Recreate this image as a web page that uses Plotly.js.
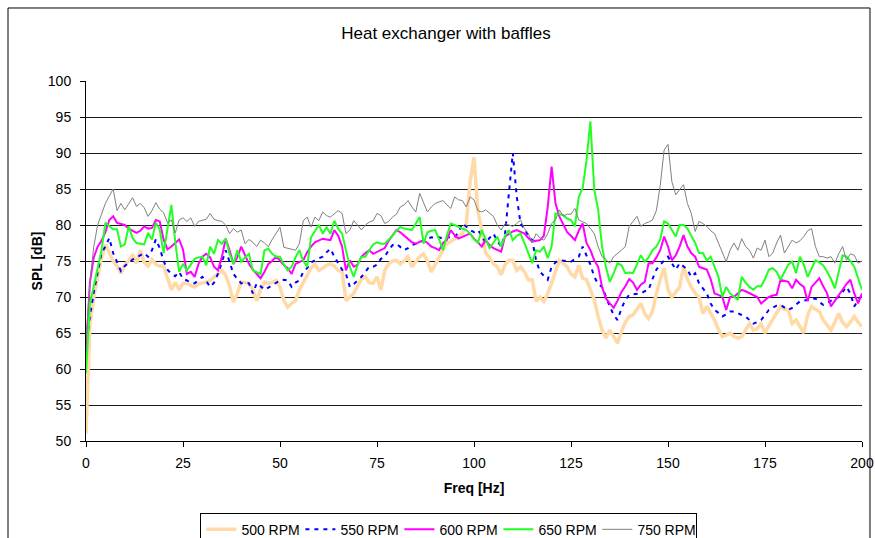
<!DOCTYPE html>
<html>
<head>
<meta charset="utf-8">
<script src="https://cdn.plot.ly/plotly-3.0.1.min.js"></script>
<style>html,body{margin:0;padding:0;background:#fff;overflow:hidden;}#chart{width:875px;height:538px;}</style>
</head>
<body>
<div id="chart"></div>
<script>
// Frequency axis, 1 Hz steps 0..200
var freq = [];
for (var i = 0; i <= 200; i++) freq.push(i);

var seriesNames = ["500 RPM", "550 RPM", "600 RPM", "650 RPM", "750 RPM"];

var rpm500 = [
51,66,70,72.5,75.5,77.3,76,75,74.3,73.3,
74.5,75,75.9,74.7,76.5,74.8,74.3,75.2,74.5,74.3,
74.3,72.5,71,72,71,71.9,71.9,71.6,71.4,71.8,
71.9,72.1,72.3,72.8,73.2,73.7,73,71.5,69.3,70.5,
72.1,72,71.9,71,69.5,71,72.1,71.9,72,72.3,
71.4,69.5,68.6,69.1,69.5,71,72,72.8,74,74.6,
73.7,74,74.4,74.6,74.3,73.7,73.5,69.5,70,70.5,
71.5,72.5,72.8,72,71.9,72.8,71,73.7,74.6,75,
75.1,74.6,75,75.6,74.2,75,75.6,76,75,73.5,
74.6,75.5,76.5,77.4,77.7,78.1,78.4,78.8,80.2,86,
89.4,82,79.3,76.1,75.5,74.6,74.2,73.1,74.5,75.1,
75.1,73.7,74.2,73.5,72.4,72.4,69.4,70,69.4,70.5,
71.9,73.7,75.1,74.7,74.2,73.2,72.8,74.4,72.6,72.4,
71,69.6,67.3,65.4,64.3,65.4,64.5,63.6,65.2,66.5,
67.3,67.5,68.3,69.1,67.7,67,68,70.5,72.4,74,
71,70,70.7,71.4,74.2,72.5,71.4,70.5,70,67.7,
68.7,67.8,66.8,65.5,64.5,64.7,65,64.5,64.3,64.5,
65.5,66.3,65.4,65.6,66.3,65,66,66.8,67.8,68.7,
68.3,68.2,66.3,66.8,66,65,67.5,68.7,68.3,68,
66.8,66,65.4,66.5,67.7,66.5,65.9,66.5,67.3,66.5,
65.9
];

var rpm550 = [
63,67.3,70.6,73.5,76.1,77,78.2,76.1,74.8,73.6,
74.3,74.8,75.2,75.5,75.8,76.1,75.6,76.5,78,76.8,
75,73.8,73.2,72.9,73.5,72.5,72.3,72,71.9,72.4,
72.8,72.2,71.4,72,73.2,74.8,76.5,74.9,73.2,72.5,
71.9,72,71.9,70.5,71.9,71.5,71,71.3,71.6,71.9,
72.3,72.4,72.3,71.4,72,72.3,73.5,74,74.8,75.1,
75.4,75.6,76.2,76.7,75.6,74.6,73.8,73.2,71.4,71.8,
72.3,72.8,73.5,74.2,74.2,74.5,75.3,75.6,76.5,77.2,
77.4,77,76.5,76.8,77.2,77.4,77.6,77.8,78,78.3,
78.2,78.3,78.1,78.4,78.2,78.3,79,80.2,79.8,79.3,
79,79.3,78.5,77.5,78.2,78.8,77.8,77,78.8,85,
90,84,80.2,79.5,78.5,77.9,75.1,73.5,73,72.4,
74.2,74.8,75.1,75,74.9,74.9,75.3,75.6,77,75.8,
74.5,72.8,71.8,71.4,70,68.7,67.5,66.8,68.4,69.6,
70.3,70.4,70.5,70.5,70.8,71,72.5,73.8,74.5,75.1,
75.6,74.7,73.8,74.7,74.2,73.8,72.8,73.3,71.9,71.2,
70.5,69.1,68.2,67.8,67.3,67.6,68,68,67.7,67.5,
67.3,66.8,66.3,66.5,66.8,67.5,68.2,68.5,68.8,68.9,
68.5,68.2,68.5,69,69.4,69.5,69.6,69.7,69.8,69.3,
68.9,69.2,69.5,69.8,70,70.7,71.4,70.5,68.7,69.5,
70.3
];

var rpm600 = [
62,72,75.5,77,77.8,79,80.7,81.2,80.3,80.2,
80,79.5,79.2,78.9,79.2,79.8,79.5,79.6,80.7,80.5,
78,76.6,77,77.5,78,76.6,73.2,73.5,72.8,74.6,
75.6,76,75.5,74.2,73.7,75.5,78.1,76.5,74.6,75.5,
77,75.8,74.6,73.8,73.2,72.6,73.5,74.6,75,75.6,
75.1,74.4,74,73.2,74.6,74.8,75.1,76.2,77,77.6,
77.9,78.1,78,77.9,79.3,78.5,77,73.7,75.1,74.2,
74.5,75.6,76.1,76.5,76,76.3,76.5,76.8,77.8,78.5,
79.3,79,78.5,78.1,77.6,77.4,77.6,77.9,77.5,77,
76.8,76.5,77.5,77.9,79.3,78.6,78.1,78.4,78.6,78.8,
78.1,77.6,77,77.9,77.2,76.8,76.5,76.3,78.4,78.8,
79.1,79.3,79,78.8,78.2,77.7,77.8,77.9,78.5,82.5,
88.1,83,81.2,80,79,78.5,77.9,79.2,80.2,77.5,
76.5,75.1,74.2,71.4,69.8,69.1,68.5,69.5,70.7,71.5,
72.5,72,71,71.7,72.1,74.7,74.7,75.5,76.5,78.4,
77,75.1,75.8,77,78.6,77,76.1,75.6,74.2,74,
73.8,72.5,70.5,70.3,70,68.2,70,70,70.5,71,
70.8,70.5,70.2,70,69.1,69.5,70,70.2,70.3,72.4,
72.2,72.1,71.2,72.4,71.8,71.4,69.4,71.4,72,72.6,
71.5,70.5,68.7,69.5,70.3,71,71.8,72.4,70.5,69.1,
70.5
];

var rpm650 = [
59.4,69,71.5,74,76.5,80.3,79.8,79.4,79.4,77,
77.3,79.8,78.2,77.5,77.4,77.3,78.9,78,80.3,79.4,
76.1,79.4,82.8,77.7,73.5,74.6,73.7,74.5,75.3,75.5,
75.6,74.4,77,76,77.9,77.4,78.1,76,74.6,76.5,
74.9,75.5,76,73.7,73.5,73.2,76.5,76.7,76,75.6,
75.6,74.5,73.7,74.2,75.5,76.5,75,74.2,78.3,79.2,
80,78.8,79.7,78.8,80.6,79.5,78.8,76.5,74.2,72.8,
74.5,75.6,75.6,76.5,77.3,77.6,77.4,77.4,77.9,78.5,
79.2,79.7,79.5,79.4,79.3,80.2,81.1,77.4,79,79.2,
79.3,78,76.5,78.5,80.2,80,79.7,79.5,79.3,78.8,
78,77.5,79.3,78,76.8,77.5,78.4,77,78.5,79.3,
77.9,78.5,78.8,77.5,76.1,74.7,76.5,76.3,77,75.4,
77,81.6,81.5,81.4,80.9,80.7,79.8,83.9,85.1,89,
94.4,84.9,82.1,77,74.2,72.1,73.3,74.7,74.4,73.3,
73.4,73.3,74.5,75.8,74.9,75.5,76.5,77,78,80.5,
80.2,79.3,78.4,80,80,79.5,78.5,77.5,76.1,76.1,
75.1,75.6,74.2,72.8,70,71.4,70.5,70,69.6,72.8,
72,71.4,71,71.5,71.5,72.5,73.8,74,73.5,72.4,
73.5,74.5,74.9,73.3,75.6,74.5,72.8,74,75.1,74.8,
74.4,73.5,72.5,71.2,73.3,75.8,75.6,75,74.2,72.5,
71
];

var rpm750 = [
64,72,77,80,81.5,83,84,85,82,83,
82.1,83,83.8,82.6,83,82.4,81.2,82,83.1,82.2,
81.7,80.3,80.7,78.9,80.7,81,80.5,81,79.8,80.5,
80.6,80.8,81.6,80.8,80.6,80.5,80,78.8,79.5,79,
79.3,77.4,78,77.6,77,77.9,77.5,77,78,78.8,
79.7,76.9,76.8,76.7,76.5,77.4,80.6,81.1,79.7,81.1,
80.6,81.8,81.3,81.1,81.5,82,81.6,78.8,79.3,80.6,
80,79.3,80,80.4,80.6,81.6,81.3,80.2,80.5,81.1,
81.5,82.5,82.8,83.4,82.5,81.8,84.4,83,81.8,82.5,
83,83.2,83.4,82.8,82.3,83.9,83.5,83.4,82.5,83.9,
83.5,82,81.8,82.1,81.6,81.2,80,79.3,80.2,80,
79.8,80.2,80.7,79.5,78.8,77.5,78.8,78.2,77.9,78.8,
80.2,80.7,82.1,81.2,81.5,81.5,82.3,80.7,80.5,80.2,
79.5,78.8,77,75.6,75.2,74.7,75.6,76,76.5,77,
79.8,80.5,81.2,79.8,80.2,80.4,80.7,82,85.5,90.4,
91.2,86,84.2,84.9,85.6,83,81.6,79.1,80.5,80.2,
79.8,79.2,78.8,77.5,76.2,74.9,76.5,77.5,76.5,78.1,
77,76.5,75.4,76.8,76.5,77.9,75.6,76.1,77.5,78.6,
76.1,77,77.9,77.5,77.8,78.4,79.2,79.5,77,75.6,
75.6,75.4,75.6,74.7,76,77,75.1,76,75.8,74.7,
75
];

var xTickVals = [0, 25, 50, 75, 100, 125, 150, 175, 200];
var yTickVals = [50, 55, 60, 65, 70, 75, 80, 85, 90, 95, 100];

var seriesData = [rpm500, rpm550, rpm600, rpm650, rpm750];
var seriesStyle = [
  {color: "#FFD9A6", width: 3.5, dash: "solid"},
  {color: "#0000FF", width: 2, dash: "4px,5px"},
  {color: "#FF00FF", width: 2, dash: "solid"},
  {color: "#22FF22", width: 2, dash: "solid"},
  {color: "#808080", width: 1, dash: "solid"}
];

var traces = seriesData.map(function (d, k) {
  return {
    x: freq, y: d, name: seriesNames[k], type: "scatter", mode: "lines",
    line: seriesStyle[k], hoverinfo: "x+y+name"
  };
});

var F = "Arial, 'Liberation Sans', sans-serif";
var layout = {
  width: 875, height: 538,
  paper_bgcolor: "#ffffff", plot_bgcolor: "#ffffff",
  margin: {l: 86, r: 13, t: 81, b: 97, pad: 0, autoexpand: false},
  font: {family: F, size: 14, color: "#000"},
  title: {text: "Heat exchanger with baffles", font: {family: F, size: 17, color: "#000"},
          x: 0.5097, xref: "container", xanchor: "center", y: 0.938, yref: "container", yanchor: "middle"},
  xaxis: {
    range: [0, 200], tickvals: xTickVals, ticktext: xTickVals.map(String),
    showgrid: false, zeroline: false, showline: true, linecolor: "#000", linewidth: 1,
    ticks: "outside", ticklen: 5, tickcolor: "#000", tickfont: {family: F, size: 14},
    ticklabelstandoff: 4,
    title: {text: "<b>Freq [Hz]</b>", font: {family: F, size: 14}, standoff: 13}
  },
  yaxis: {
    range: [50, 100], tickvals: yTickVals, ticktext: yTickVals.map(String),
    showgrid: true, gridcolor: "#1a1a1a", gridwidth: 1,
    zeroline: false, showline: true, linecolor: "#000", linewidth: 1,
    ticks: "outside", ticklen: 5, tickcolor: "#000", tickfont: {family: F, size: 14},
    ticklabelstandoff: 6,
    title: {text: "<b>SPL [dB]</b>", font: {family: F, size: 14}, standoff: 1}
  },
  showlegend: true,
  legend: {
    orientation: "h", x: 0.229, xref: "container", xanchor: "left",
    y: 0.047, yref: "container", yanchor: "top",
    entrywidth: 54, entrywidthmode: "pixels",
    bordercolor: "#000", borderwidth: 1, bgcolor: "#fff",
    font: {family: F, size: 14, color: "#000"}, traceorder: "normal"
  },
  shapes: [
    {type: "rect", xref: "paper", yref: "paper", x0: -0.1005, x1: 1.0103, y0: -0.3, y1: 1.2028,
     line: {color: "#000", width: 1}, fillcolor: "rgba(0,0,0,0)", layer: "below"}
  ]
};

Plotly.newPlot("chart", traces, layout, {staticPlot: true, displayModeBar: false});
</script>
</body>
</html>
